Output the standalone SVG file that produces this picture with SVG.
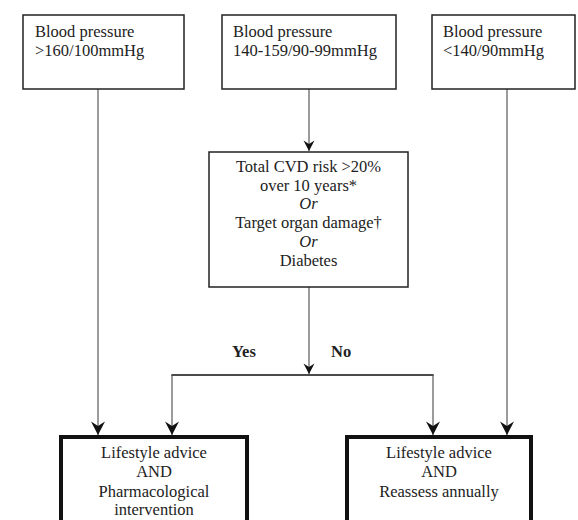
<svg xmlns="http://www.w3.org/2000/svg" width="578" height="520" viewBox="0 0 578 520">
<style>
  text { font-family: "Liberation Serif", "Tinos", "Times New Roman", "DejaVu Serif", serif; font-size: 16.5px; fill: #222; }
  .c { text-anchor: middle; }
  .b { font-weight: bold; }
  .i { font-style: italic; }
  .thin { fill: #fff; stroke: #222; stroke-width: 1.5; }
  .thick { fill: #fff; stroke: #111; stroke-width: 4; }
  .conn { fill: none; stroke: #666; stroke-width: 1.3; }
  .hl { fill: none; stroke: #111; stroke-width: 1.3; }
</style>
<defs>
  <marker id="big" markerUnits="userSpaceOnUse" markerWidth="16" markerHeight="16" refX="14" refY="8" orient="auto" viewBox="0 0 16 16">
    <path d="M14,8 L0.5,1 L5,8 L0.5,15 Z" fill="#111"/>
  </marker>
  <marker id="small" markerUnits="userSpaceOnUse" markerWidth="12" markerHeight="12" refX="11" refY="6" orient="auto" viewBox="0 0 12 12">
    <path d="M11,6 L0.5,0.5 L4,6 L0.5,11.5 Z" fill="#111"/>
  </marker>
</defs>
<rect width="578" height="520" fill="#fff"/>
<g id="connectors">
  <line class="conn" x1="98" y1="89" x2="98" y2="435" marker-end="url(#big)"/>
  <line class="conn" x1="309" y1="89" x2="309" y2="151" marker-end="url(#small)"/>
  <line class="conn" x1="309" y1="287" x2="309" y2="374" marker-end="url(#small)"/>
  <polyline class="hl" points="172,376 172,375 433,375 433,376"/>
  <line class="conn" x1="172" y1="375" x2="172" y2="435" marker-end="url(#big)"/>
  <line class="conn" x1="433" y1="375" x2="433" y2="435" marker-end="url(#big)"/>
  <line class="conn" x1="507" y1="89" x2="507" y2="435" marker-end="url(#big)"/>
  <text class="b" x="232" y="357">Yes</text>
  <text class="b" x="331" y="357">No</text>
</g>
<g id="bp-high">
  <rect class="thin" x="23" y="15" width="161" height="74"/>
  <text x="35" y="37">Blood pressure</text>
  <text x="35" y="56">&gt;160/100mmHg</text>
</g>
<g id="bp-mid">
  <rect class="thin" x="222" y="15" width="174" height="74"/>
  <text x="233" y="37">Blood pressure</text>
  <text x="233" y="56">140-159/90-99mmHg</text>
</g>
<g id="bp-low">
  <rect class="thin" x="432" y="15" width="143" height="74"/>
  <text x="443" y="37">Blood pressure</text>
  <text x="443" y="56">&lt;140/90mmHg</text>
</g>
<g id="risk">
  <rect class="thin" x="209" y="152" width="199" height="135"/>
  <text class="c" x="308.5" y="172">Total CVD risk &gt;20%</text>
  <text class="c" x="308.5" y="191">over 10 years*</text>
  <text class="c i" x="308.5" y="209">Or</text>
  <text class="c" x="308.5" y="228">Target organ damage†</text>
  <text class="c i" x="308.5" y="247">Or</text>
  <text class="c" x="308.5" y="266">Diabetes</text>
</g>
<g id="treat">
  <rect class="thick" x="61" y="437" width="186" height="100"/>
  <text class="c" x="154" y="458">Lifestyle advice</text>
  <text class="c" x="154" y="477">AND</text>
  <text class="c" x="154" y="497">Pharmacological</text>
  <text class="c" x="154" y="515">intervention</text>
</g>
<g id="reassess">
  <rect class="thick" x="347" y="437" width="184" height="100"/>
  <text class="c" x="439" y="458">Lifestyle advice</text>
  <text class="c" x="439" y="477">AND</text>
  <text class="c" x="439" y="497">Reassess annually</text>
</g>
</svg>
